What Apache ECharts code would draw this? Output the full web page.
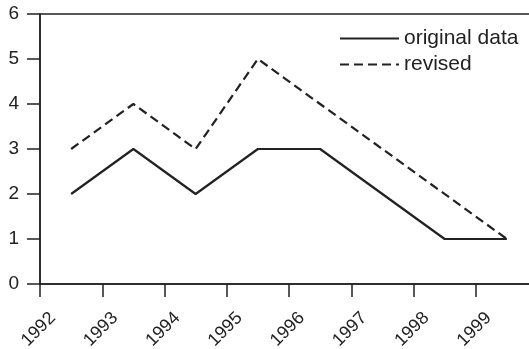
<!DOCTYPE html>
<html>
<head>
<meta charset="utf-8">
<script src="https://cdn.jsdelivr.net/npm/echarts@6/dist/echarts.min.js"></script>
<style>
  html, body { margin: 0; padding: 0; background: #fff; }
  #chart { width: 529px; height: 349px; }
</style>
</head>
<body>
<div id="chart"></div>
<script>
// Year positions (mid-year) and values for each series
const originalYears = [1992.5, 1993.5, 1994.5, 1995.5, 1996.5, 1998.5, 1999.5];
const originalValues = [2, 3, 2, 3, 3, 1, 1];
const revisedYears = [1992.5, 1993.5, 1994.5, 1995.5, 1999.5];
const revisedValues = [3, 4, 3, 5, 1];
const seriesNames = ['original data', 'revised'];
const lastYearLabel = 1999;

const ink = '#222';
const font = 'Liberation Sans, Arial, Helvetica, sans-serif';

const pairs = (xs, ys) => xs.map((x, i) => [x, ys[i]]);

const chart = echarts.init(document.getElementById('chart'), null, { renderer: 'canvas' });
chart.setOption({
  animation: false,
  backgroundColor: '#fff',
  grid: {
    left: 40, top: 14, bottom: 65, right: -9,
    containLabel: false, outerBoundsMode: 'none',
    show: true, borderColor: ink, borderWidth: 1.5, backgroundColor: 'transparent'
  },
  legend: {
    orient: 'vertical',
    left: 334, top: 23,
    itemWidth: 59, itemHeight: 20, itemGap: 5,
    itemStyle: { color: 'transparent', borderWidth: 0, opacity: 0 },
    textStyle: { fontFamily: font, fontSize: 21, color: ink },
    data: seriesNames
  },
  xAxis: {
    type: 'value',
    min: 1992, max: 2000, interval: 1,
    splitLine: { show: false },
    axisLine: { lineStyle: { color: ink, width: 1.5 } },
    axisTick: { inside: false, length: 13, lineStyle: { color: ink, width: 1.5 } },
    axisLabel: {
      rotate: 45, margin: 44, align: 'center', padding: [0, 4, 0, 0],
      fontFamily: font, fontSize: 18, color: ink,
      formatter: v => (v > lastYearLabel ? '' : String(v))
    }
  },
  yAxis: {
    type: 'value',
    min: 0, max: 6, interval: 1,
    splitLine: { show: false },
    axisLine: { show: true, lineStyle: { color: ink, width: 1.5 } },
    axisTick: { show: true, inside: false, length: 13, lineStyle: { color: ink, width: 1.5 } },
    axisLabel: { margin: 21, fontFamily: font, fontSize: 19, color: ink }
  },
  series: [
    {
      name: seriesNames[0], type: 'line', data: pairs(originalYears, originalValues),
      symbol: 'none', lineStyle: { color: ink, width: 2.2, type: 'solid' },
      itemStyle: { color: ink }
    },
    {
      name: seriesNames[1], type: 'line', data: pairs(revisedYears, revisedValues),
      symbol: 'none', lineStyle: { color: ink, width: 2.2, type: [9, 5] },
      itemStyle: { color: ink }
    }
  ]
});
</script>
</body>
</html>
